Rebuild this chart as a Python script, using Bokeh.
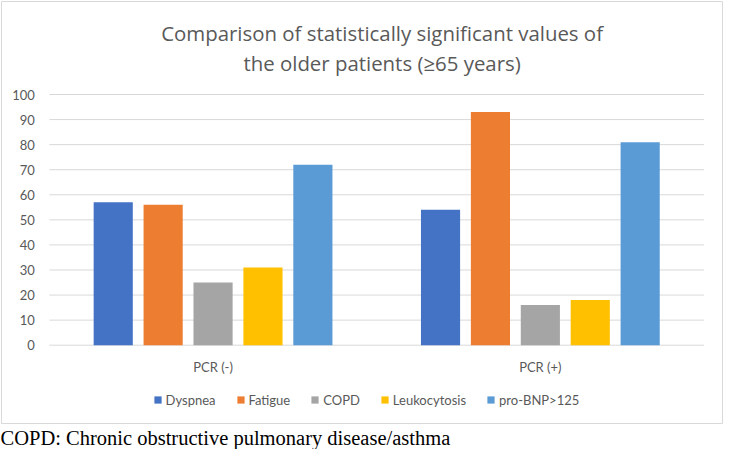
from bokeh.plotting import figure
from bokeh.models import ColumnDataSource, Legend, LegendItem, Label, Title, Range1d
from bokeh.core.properties import value
from bokeh.embed import file_html
from bokeh.resources import INLINE

groups = ["PCR (-)", "PCR (+)"]
series = ["Dyspnea", "Fatigue", "COPD", "Leukocytosis", "pro-BNP>125"]
dyspnea = [57, 54]
fatigue = [56, 93]
copd = [25, 16]
leukocytosis = [31, 18]
probnp = [72, 81]
colors = ["#4472C4", "#ED7D31", "#A5A5A5", "#FFC000", "#5B9BD5"]
y_ticks = [0, 10, 20, 30, 40, 50, 60, 70, 80, 90, 100]
title_lines = ["Comparison of statistically significant values of", "the older patients (\u226565 years)"]
caption = "COPD: Chronic obstructive pulmonary disease/asthma"

values = [dyspnea, fatigue, copd, leukocytosis, probnp]

FONT = "Lato"
GREY = "#595959"
LINE = "#D9D9D9"

# The frame is the bordered chart box (721 x 422 px).
FW, FH = 721, 422
PLOT_L, CAT_W = 47.9, 327.3      # px offset of value area inside frame, px per category
ZERO_Y, PX_UNIT = 343.7, 2.507   # px from frame top to the 0 line, px per value unit

x_lo = -PLOT_L / CAT_W
x_hi = (FW - PLOT_L) / CAT_W
y_hi = ZERO_Y / PX_UNIT
y_lo = -(FH - ZERO_Y) / PX_UNIT

p = figure(x_range=Range1d(x_lo, x_hi), y_range=Range1d(y_lo, y_hi),
           frame_width=FW, frame_height=FH, output_backend="svg", toolbar_location=None,
           x_axis_location=None, y_axis_location=None,
           min_border_left=1, min_border_right=1, min_border_top=1, min_border_bottom=20)
p.outline_line_color = LINE
p.outline_line_width = 1
p.xgrid.visible = False
p.ygrid.visible = False

n_groups = len(groups)
centers = [g + 0.5 for g in range(n_groups)]

# value gridlines (0..100) across the value area
p.segment(x0=[0] * len(y_ticks), x1=[n_groups] * len(y_ticks), y0=y_ticks, y1=y_ticks,
          line_color=LINE, line_width=1)

# value tick labels
p.text(x=[-14.6 / CAT_W] * len(y_ticks), y=y_ticks, text=[str(t) for t in y_ticks],
       text_align="right", text_baseline="middle", text_font=value(FONT),
       text_font_size="13px", text_color=GREY)

# category labels
p.text(x=centers, y=[-21.5 / PX_UNIT] * n_groups, text=groups, text_align="center",
       text_baseline="middle", text_font=value(FONT), text_font_size="13px", text_color=GREY)

step = 0.1525
bw = 0.1196
renderers = []
for k, (s, c, vals) in enumerate(zip(series, colors, values)):
    src = ColumnDataSource(dict(x=[cx + (k - 2) * step for cx in centers], top=vals))
    r = p.vbar(x="x", top="top", width=bw, source=src, fill_color=c, line_color=None)
    renderers.append(r)

legend = Legend(items=[LegendItem(label=s, renderers=[r]) for s, r in zip(series, renderers)],
                orientation="horizontal", location=(151.6, 15.5))
legend.label_text_font = FONT
legend.label_text_font_size = "13px"
legend.label_text_color = GREY
legend.glyph_width = 9
legend.glyph_height = 9
legend.label_standoff = 4
legend.spacing = 20
legend.padding = 0
legend.margin = 0
legend.border_line_color = None
legend.background_fill_alpha = 0
p.add_layout(legend, "center")

for t, dy in zip(title_lines, [312.3, 282.0]):
    p.add_layout(Label(x=(381.6 - 1 - PLOT_L) / CAT_W, y=dy / PX_UNIT, text=t,
                       text_align="center", text_baseline="middle",
                       text_font="Open Sans", text_font_size="20.4px", text_color=GREY))

p.add_layout(Title(text=caption, align="left", text_font="Liberation Serif", text_font_size="20.5px",
                   text_font_style="normal", text_color="black", standoff=2, offset=-1), "below")

open("out.html", "w").write(file_html(p, INLINE))
